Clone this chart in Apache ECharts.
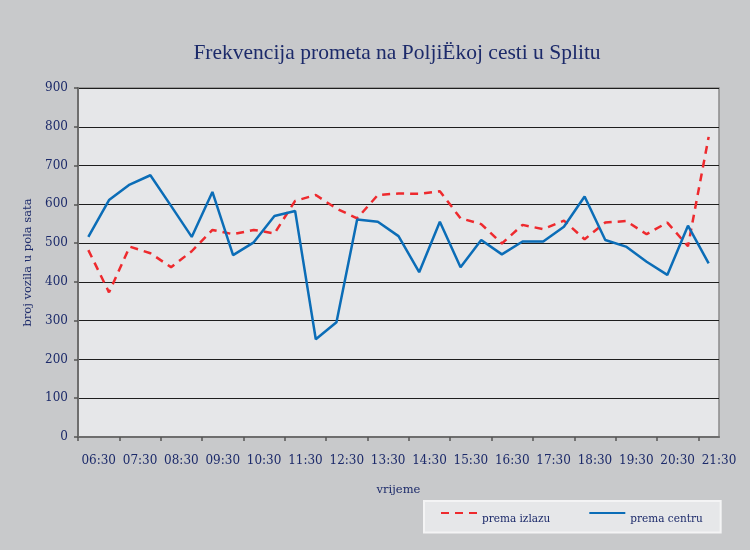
<!DOCTYPE html>
<html>
<head>
<meta charset="utf-8">
<script src="https://cdn.jsdelivr.net/npm/echarts@6/dist/echarts.min.js"></script>
<style>
  html, body { margin: 0; padding: 0; background: #c8c9cb; }
  #chart { width: 750px; height: 550px; }
</style>
</head>
<body>
<div id="chart"></div>
<script>
// half-hour counts, 06:30 .. 21:30
const hourLabels = ['06:30', '07:30', '08:30', '09:30', '10:30', '11:30', '12:30', '13:30',
  '14:30', '15:30', '16:30', '17:30', '18:30', '19:30', '20:30', '21:30']
const premaIzlazu = [482, 373, 491, 474, 438, 479, 534, 523, 534, 525, 609, 624, 589, 564, 624, 628,
  627, 634, 564, 549, 499, 547, 536, 558, 510, 553, 557, 523, 553, 492, 774]
const premaCentru = [516, 611, 651, 675, 596, 516, 632, 469, 502, 570, 583, 252, 296, 561, 555, 518,
  425, 555, 438, 508, 471, 504, 504, 542, 620, 508, 491, 452, 418, 545, 448]
const yTicks = { min: 0, max: 900, step: 100 }

const navy = '#1c2a6a'
const serif = 'DejaVu Serif'

const chart = echarts.init(document.getElementById('chart'))

// slot i sits in the middle of [i, i+1]; ticks every hour, labels between them
const nSlots = premaCentru.length
const tickVals = []
for (let b = 0; b <= nSlots - 1; b += 2) tickVals.push(b)
const labelVals = hourLabels.map((_, k) => 2 * k + 1)

const option = {
  backgroundColor: '#c8c9cb',
  animation: false,
  title: {
    text: 'Frekvencija prometa na PoljiËkoj cesti u Splitu',
    left: 392,
    top: 37,
    textAlign: 'center',
    textStyle: { fontFamily: 'Liberation Serif', fontSize: 21.5, fontWeight: 'normal', color: navy }
  },
  legend: {
    left: 424,
    top: 501,
    width: 280,
    itemWidth: 36,
    itemHeight: 10,
    itemGap: 38,
    padding: [8, 18, 8, 16],
    backgroundColor: '#e6e7e9',
    borderColor: '#f4f4f5',
    borderWidth: 2,
    itemStyle: { opacity: 0 },
    formatter: name => '{t|' + name + '}',
    textStyle: {
      fontFamily: serif, fontSize: 10.5, color: navy,
      rich: { t: { fontFamily: serif, fontSize: 10.5, color: navy, padding: [12, 0, 0, 0] } }
    },
    data: ['prema izlazu', 'prema centru']
  },
  grid: {
    left: 78, right: 31, top: 88, bottom: 113,
    show: true,
    backgroundColor: '#e6e7e9',
    borderColor: '#8a8a8a',
    borderWidth: 1.5
  },
  xAxis: {
    type: 'value',
    min: 0,
    max: nSlots,
    name: 'vrijeme',
    nameLocation: 'middle',
    nameGap: 47,
    nameTextStyle: { fontFamily: serif, fontSize: 11.5, color: navy },
    axisLine: { show: true, lineStyle: { color: '#6e6e6e', width: 2 } },
    axisTick: { show: true, length: 4, customValues: tickVals, lineStyle: { color: '#555', width: 1.5 } },
    axisLabel: {
      customValues: labelVals,
      margin: 18,
      fontFamily: serif,
      fontSize: 12,
      color: navy,
      formatter: v => hourLabels[(v - 1) / 2]
    },
    splitLine: { show: false }
  },
  yAxis: {
    type: 'value',
    min: yTicks.min,
    max: yTicks.max,
    interval: yTicks.step,
    name: 'broj vozila u pola sata',
    nameLocation: 'middle',
    nameGap: 40,
    nameTextStyle: { fontFamily: serif, fontSize: 11.5, color: navy },
    axisLine: { show: true, lineStyle: { color: '#6e6e6e', width: 2 } },
    axisTick: { show: true, length: 4, lineStyle: { color: '#555', width: 1.5 } },
    axisLabel: { margin: 10, fontFamily: serif, fontSize: 12, color: navy },
    splitLine: { show: true, lineStyle: { color: '#1e1e1e', width: 1.2 } }
  },
  series: [
    {
      name: 'prema izlazu',
      type: 'line',
      symbol: 'none',
      data: premaIzlazu.map((v, i) => [i + 0.5, v]),
      lineStyle: { color: '#ee2a2e', width: 2.5, type: [8, 6] },
      itemStyle: { color: '#ee2a2e' }
    },
    {
      name: 'prema centru',
      type: 'line',
      symbol: 'none',
      data: premaCentru.map((v, i) => [i + 0.5, v]),
      lineStyle: { color: '#0b6db7', width: 2.5 },
      itemStyle: { color: '#0b6db7' }
    }
  ]
}

chart.setOption(option)
</script>
</body>
</html>
